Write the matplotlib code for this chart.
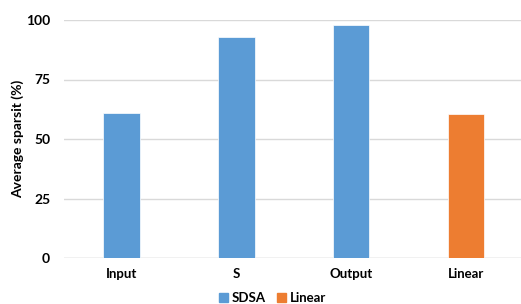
import matplotlib.pyplot as plt
from matplotlib.patches import Patch

categories = ["Input", "S", "Output", "Linear"]
values = [61, 93, 98, 60.5]
groups = ["SDSA", "SDSA", "SDSA", "Linear"]
yticks = [0, 25, 50, 75, 100]

colors = {"SDSA": "#5b9bd5", "Linear": "#ed7d31"}

plt.rcParams["font.family"] = ["Lato", "DejaVu Sans"]
plt.rcParams["font.weight"] = "bold"

fig = plt.figure(figsize=(5.21, 3.04), dpi=100)
ax = fig.add_axes([64 / 521, 46 / 304, 457 / 521, 238 / 304])

x = range(len(categories))
ax.bar(x, values, width=0.32, color=[colors[g] for g in groups],
       edgecolor="white", linewidth=0.5, zorder=3)

ax.set_xlim(-0.5, 3.48)
ax.set_ylim(0, 100)
ax.set_yticks(yticks)
ax.set_xticks(list(x))
ax.set_xticklabels(categories, fontsize=9.5, fontweight="bold")
ax.set_yticklabels([str(t) for t in yticks], fontsize=10, fontweight="bold")
ax.yaxis.grid(True, color="#d9d9d9", linewidth=1, zorder=0)
ax.tick_params(length=0, pad=7)
ax.tick_params(axis="y", pad=10)
for side in ["top", "right", "left", "bottom"]:
    ax.spines[side].set_visible(False)
ax.axhline(0, color="#d9d9d9", linewidth=1, zorder=1)
fig.text(18 / 521, 1 - 139 / 304, "Average sparsit (%)", rotation=90,
         ha="center", va="center", fontsize=10, fontweight="bold")

handles = [Patch(color=colors["SDSA"], label="SDSA"),
           Patch(color=colors["Linear"], label="Linear")]
fig.legend(handles=handles, loc="lower center", bbox_to_anchor=(0.523, -0.04),
           ncol=2, frameon=False, handlelength=0.7,
           handleheight=0.7, handletextpad=0.3, columnspacing=0.8,
           prop={"weight": "bold", "size": 9.5})

fig.savefig("out.png", dpi=100)
